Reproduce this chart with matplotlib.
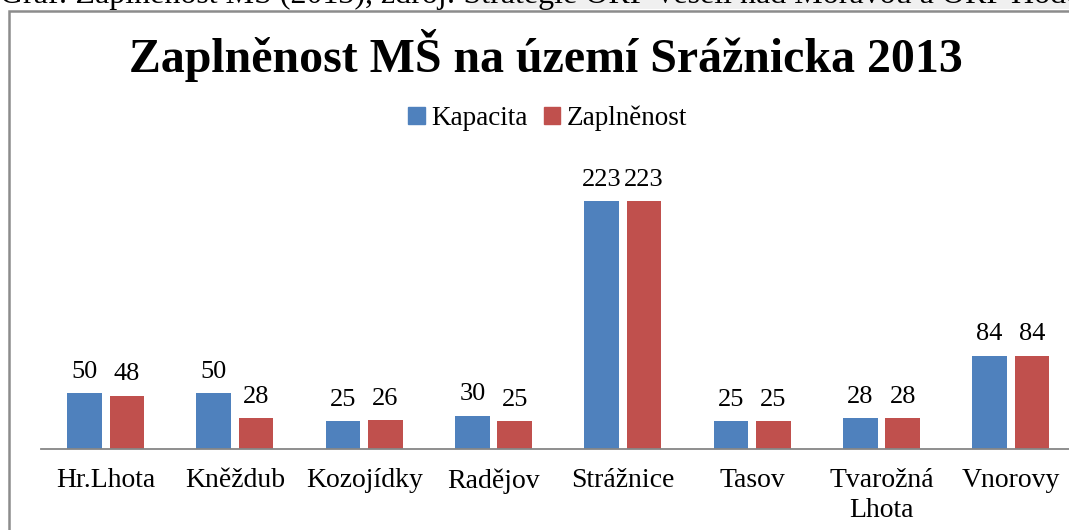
import matplotlib
matplotlib.use("Agg")
import matplotlib.pyplot as plt
from matplotlib.patches import Rectangle, Patch
import numpy as np

plt.rcParams['font.family'] = ['Liberation Serif', 'DejaVu Serif']

obce = ['Hr.Lhota', 'Kněždub', 'Kozojídky', 'Radějov', 'Strážnice',
        'Tasov', 'Tvarožná\nLhota', 'Vnorovy']
kapacita = [50, 50, 25, 30, 223, 25, 28, 84]
zaplnenost = [48, 28, 26, 25, 223, 25, 28, 84]

W, H = 1069, 530
fig = plt.figure(figsize=(W / 100, H / 100), dpi=100)

# popisek grafu nad rámečkem (v dokumentu oříznutý)
fig.patches.append(Rectangle((470 / W, 1 - 9 / H), 1, 9 / H, transform=fig.transFigure,
                             facecolor='#f0f0f0', edgecolor='none', zorder=0))
fig.text(0.0, 1 - 3 / H, 'Graf: Zaplněnost MŠ (2013), zdroj: Strategie ORP Veselí nad Moravou a ORP Hodonín',
         fontsize=23, va='baseline', ha='left', color='black')

# rámeček grafu
fig.patches.append(Rectangle((8.5 / W, -0.1), 1.2, 1.1 - 10.5 / H, transform=fig.transFigure,
                             facecolor='none', edgecolor='#8c8c8c', linewidth=1.8, zorder=1))

left, base = 41, 449
cat_w = 129.3
ax = fig.add_axes([left / W, (H - base) / H, 8 * cat_w / W, 250 * 1.112 / H])
ax.set_facecolor('none')

x = np.arange(len(obce))
bw = 0.267
b1 = ax.bar(x - 0.164, kapacita, bw, color='#4f81bd', label='Kapacita')
b2 = ax.bar(x + 0.164, zaplnenost, bw, color='#c0504d', label='Zaplněnost')

for bars, vals in ((b1, kapacita), (b2, zaplnenost)):
    for b, v in zip(bars, vals):
        ax.annotate(str(v), (b.get_x() + b.get_width() / 2, v), xytext=(0, 11),
                    textcoords='offset points', ha='center', va='baseline', fontsize=19)

ax.set_xlim(-0.5, len(obce) - 0.5)
ax.set_ylim(0, 250)
ax.set_xticks(x)
ax.set_xticklabels(obce, fontsize=20, linespacing=1.25)
ax.tick_params(axis='x', length=0, pad=14)
ax.set_yticks([])
for s in ('top', 'right', 'left'):
    ax.spines[s].set_visible(False)
ax.spines['bottom'].set_color('#868686')
ax.spines['bottom'].set_linewidth(1.3)

fig.text(546 / W, 1 - 55 / H, 'Zaplněnost MŠ na území Srážnicka 2013',
         fontsize=34.5, fontweight='bold', ha='center', va='center')

fig.legend(handles=[Patch(color='#4f81bd', label='Kapacita'),
                    Patch(color='#c0504d', label='Zaplněnost')],
           loc='center', bbox_to_anchor=(548 / W, 1 - 118 / H), ncol=2, frameon=False,
           fontsize=19.5, handlelength=0.6, handleheight=0.6, handletextpad=0.25,
           columnspacing=0.6)

fig.savefig('out.png', dpi=100)
